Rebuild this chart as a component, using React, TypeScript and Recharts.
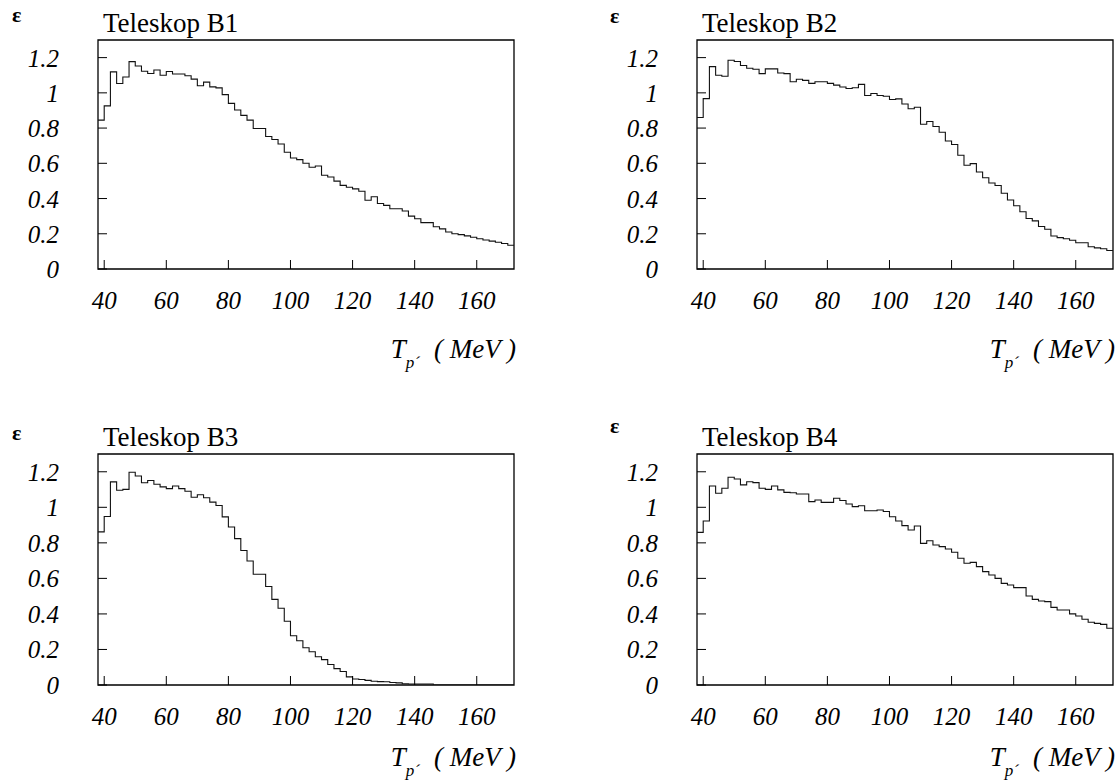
import React from "react";
import { LineChart, Line, XAxis, YAxis, ReferenceArea } from "recharts";

// bin edges (MeV), 2 MeV bins
const energies = [
  38, 40, 42, 44, 46, 48, 50, 52, 54, 56, 58, 60, 62, 64, 66, 68, 70, 72, 74, 76, 78, 80,
  82, 84, 86, 88, 90, 92, 94, 96, 98, 100, 102, 104, 106, 108, 110, 112, 114, 116, 118, 120,
  122, 124, 126, 128, 130, 132, 134, 136, 138, 140, 142, 144, 146, 148, 150, 152, 154, 156,
  158, 160, 162, 164, 166, 168, 170, 172,
];
const xTicks = [40, 60, 80, 100, 120, 140, 160];
const yTicks = [0, 0.2, 0.4, 0.6, 0.8, 1, 1.2];

const effB1 = [
  0.845, 0.926, 1.119, 1.053, 1.09, 1.177, 1.152, 1.123, 1.11, 1.13, 1.1, 1.121, 1.107, 1.107,
  1.097, 1.078, 1.04, 1.061, 1.034, 1.028, 0.99, 0.94, 0.903, 0.872, 0.845, 0.798, 0.798, 0.752,
  0.735, 0.71, 0.663, 0.63, 0.621, 0.6, 0.578, 0.585, 0.532, 0.522, 0.499, 0.475, 0.464, 0.455,
  0.441, 0.39, 0.41, 0.372, 0.361, 0.342, 0.342, 0.329, 0.3, 0.285, 0.263, 0.263, 0.24, 0.228,
  0.21, 0.2, 0.195, 0.188, 0.18, 0.172, 0.165, 0.158, 0.152, 0.145, 0.135,
];
const effB2 = [
  0.86, 0.967, 1.149, 1.1, 1.094, 1.185, 1.178, 1.155, 1.14, 1.134, 1.109, 1.136, 1.136, 1.113,
  1.109, 1.063, 1.077, 1.071, 1.054, 1.063, 1.063, 1.054, 1.044, 1.033, 1.025, 1.029, 1.048,
  0.985, 0.996, 0.985, 0.981, 0.962, 0.966, 0.937, 0.91, 0.918, 0.822, 0.837, 0.809, 0.776,
  0.727, 0.707, 0.646, 0.589, 0.598, 0.551, 0.518, 0.488, 0.474, 0.43, 0.392, 0.359, 0.325,
  0.287, 0.273, 0.241, 0.226, 0.187, 0.178, 0.172, 0.163, 0.149, 0.149, 0.126, 0.12, 0.115,
  0.105,
];
const effB3 = [
  0.862, 0.948, 1.143, 1.096, 1.101, 1.197, 1.176, 1.138, 1.151, 1.13, 1.115, 1.105, 1.12,
  1.105, 1.09, 1.057, 1.071, 1.054, 1.029, 1.01, 0.946, 0.889, 0.824, 0.757, 0.698, 0.623,
  0.623, 0.554, 0.482, 0.432, 0.359, 0.277, 0.249, 0.21, 0.187, 0.159, 0.143, 0.115, 0.092,
  0.076, 0.046, 0.034, 0.031, 0.026, 0.021, 0.019, 0.018, 0.014, 0.012, 0.007, 0.006, 0.006,
  0.006, 0.006, 0, 0, 0, 0, 0, 0, 0, 0, 0, 0, 0, 0, 0,
];
const effB4 = [
  0.859, 0.923, 1.12, 1.079, 1.107, 1.169, 1.159, 1.126, 1.144, 1.139, 1.107, 1.101, 1.12,
  1.098, 1.084, 1.082, 1.075, 1.075, 1.032, 1.041, 1.028, 1.028, 1.051, 1.038, 1.019, 1.004,
  1.009, 0.981, 0.981, 0.985, 0.976, 0.947, 0.923, 0.897, 0.872, 0.895, 0.797, 0.812, 0.788,
  0.779, 0.765, 0.747, 0.713, 0.685, 0.69, 0.666, 0.638, 0.619, 0.6, 0.572, 0.563, 0.548,
  0.548, 0.501, 0.482, 0.473, 0.469, 0.437, 0.422, 0.422, 0.4, 0.388, 0.37, 0.353, 0.347,
  0.341, 0.319,
];

const FONT = "Liberation Serif";
const CHART_W = 516;
const PLOT_LEFT = 98;
const PLOT_TOP = 40;
const PLOT_W = 416;
const Y_AXIS_W = 60;
const X_AXIS_H = 30;

const panels = [
  { title: "Teleskop B1", values: effB1, left: 0, top: 0, plotH: 229, height: 380, epsX: 12, epsY: 22, titleDy: 89 },
  { title: "Teleskop B2", values: effB2, left: 599, top: 0, plotH: 229, height: 380, epsX: 610, epsY: 23, titleDy: 89 },
  { title: "Teleskop B3", values: effB3, left: 0, top: 414, plotH: 231, height: 367, epsX: 12, epsY: 440, titleDy: 81 },
  { title: "Teleskop B4", values: effB4, left: 599, top: 414, plotH: 231, height: 367, epsX: 610, epsY: 433, titleDy: 81 },
];

const fmt = (v: number) => String(Number(v.toFixed(1)));

const XTick = (props: any) => {
  const { x, y, payload } = props;
  return (
    <g>
      <line x1={x} x2={x} y1={y} y2={y - 9} stroke="#000" strokeWidth={1} />
      <text x={x} y={y + 40} textAnchor="middle" style={{ fontFamily: FONT, fontStyle: "italic", fontSize: 25 }} fill="#000">
        {payload.value}
      </text>
    </g>
  );
};

const YTick = (props: any) => {
  const { x, y, payload } = props;
  return (
    <g>
      <line x1={x} x2={x + 9} y1={y} y2={y} stroke="#000" strokeWidth={1} />
      <text x={x - 39} y={y} dy="0.36em" textAnchor="end" style={{ fontFamily: FONT, fontStyle: "italic", fontSize: 25 }} fill="#000">
        {fmt(payload.value)}
      </text>
    </g>
  );
};

function Panel({ p }: { p: (typeof panels)[number] }) {
  const data = energies.map((e, i) => ({ e, eff: p.values[Math.min(i, p.values.length - 1)] }));
  return (
    <div style={{ position: "absolute", left: p.left, top: p.top }}>
      <LineChart
        width={CHART_W}
        height={p.height}
        data={data}
        margin={{
          top: PLOT_TOP,
          left: PLOT_LEFT - Y_AXIS_W,
          right: CHART_W - PLOT_LEFT - PLOT_W,
          bottom: p.height - PLOT_TOP - p.plotH - X_AXIS_H,
        }}
      >
        <XAxis
          dataKey="e"
          type="number"
          domain={[38, 172]}
          ticks={xTicks}
          interval={0}
          allowDataOverflow
          height={X_AXIS_H}
          tickSize={0}
          tickMargin={0}
          axisLine={false}
          tickLine={false}
          tick={XTick}
        />
        <YAxis
          type="number"
          domain={[0, 1.3]}
          ticks={yTicks}
          interval={0}
          allowDataOverflow
          width={Y_AXIS_W}
          tickSize={0}
          tickMargin={0}
          axisLine={false}
          tickLine={false}
          tick={YTick}
        />
        <ReferenceArea x1={38} x2={172} y1={0} y2={1.3} fill="none" stroke="#000" strokeWidth={1.3} ifOverflow="visible" />
        <Line type="stepAfter" dataKey="eff" stroke="#111" strokeWidth={1.1} dot={false} isAnimationActive={false} />
      </LineChart>
    </div>
  );
}

export default function App() {
  return (
    <div
      style={{
        position: "absolute",
        left: 0,
        top: 0,
        width: 1115,
        height: 781,
        overflow: "hidden",
        background: "#fff",
        fontFamily: FONT,
      }}
    >
      {panels.map((p) => (
        <Panel key={p.title} p={p} />
      ))}
      <svg width={1115} height={781} style={{ position: "absolute", left: 0, top: 0, pointerEvents: "none" }}>
        {panels.map((p) => {
          const boxLeft = p.left + PLOT_LEFT;
          const boxRight = boxLeft + PLOT_W;
          const boxTop = p.top + PLOT_TOP;
          const boxBottom = boxTop + p.plotH;
          return (
            <g key={p.title} style={{ fontFamily: FONT }} fill="#000">
              <text x={p.epsX} y={p.epsY} style={{ fontFamily: FONT, fontSize: 22, fontWeight: "bold" }}>ε</text>
              <text x={boxLeft + 5} y={boxTop - 8} style={{ fontFamily: FONT, fontSize: 27 }}>{p.title}</text>
              <text
                x={boxRight + 2}
                y={boxBottom + p.titleDy}
                textAnchor="end"
                style={{ fontFamily: FONT, fontSize: 27, fontStyle: "italic" }}
              >
                <tspan>T</tspan>
                <tspan dy={10} style={{ fontSize: 17 }}>p´</tspan>
                <tspan dy={-10} dx={14}>( MeV )</tspan>
              </text>
            </g>
          );
        })}
      </svg>
    </div>
  );
}
